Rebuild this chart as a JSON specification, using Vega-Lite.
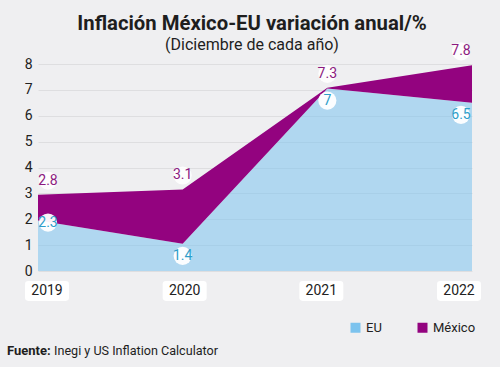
{
  "$schema": "https://vega.github.io/schema/vega-lite/v6.json",
  "width": 434,
  "height": 207,
  "autosize": "none",
  "padding": {"left": 38, "top": 64, "right": 28, "bottom": 96},
  "background": "#efeff1",
  "title": {
    "text": "Inflación México-EU variación anual/%",
    "subtitle": "(Diciembre de cada año)",
    "anchor": "middle",
    "font": "Roboto",
    "fontSize": 20.3,
    "fontWeight": "bold",
    "color": "#1e1e1e",
    "subtitleFont": "Roboto",
    "subtitleFontSize": 16,
    "subtitleColor": "#1e1e1e",
    "subtitlePadding": 3,
    "offset": -11,
    "dx": -3
  },
  "data": {
    "values": [
      {"año": "2019", "EU": 1.95, "Mexico": 2.95, "EU_et": "2.3", "MX_et": "2.8"},
      {"año": "2020", "EU": 1.05, "Mexico": 3.15, "EU_et": "1.4", "MX_et": "3.1"},
      {"año": "2021", "EU": 7.05, "Mexico": 7.08, "EU_et": "7", "MX_et": "7.3"},
      {"año": "2022", "EU": 6.5, "Mexico": 7.95, "EU_et": "6.5", "MX_et": "7.8"}
    ]
  },
  "config": {
    "view": {"stroke": null},
    "font": "Roboto",
    "axisY": {
      "tickCount": 8, "labelOverlap": false, "domain": false, "ticks": false,
      "labelFontSize": 14, "labelColor": "#222222", "labelPadding": 6,
      "gridColor": "#dedee0", "gridWidth": 1
    }
  },
  "encoding": {
    "x": {"field": "año", "type": "ordinal", "scale": {"type": "point", "padding": 0}, "axis": null}
  },
  "layer": [
    {
      "mark": {"type": "area", "opacity": 0.55, "line": false},
      "encoding": {
        "y": {
          "field": "EU", "type": "quantitative",
          "scale": {"domain": [0, 8], "nice": false},
          "axis": {"title": null}
        },
        "color": {
          "datum": "EU", "type": "nominal",
          "scale": {"domain": ["EU", "México"], "range": ["#7cc3ee", "#93037f"]},
          "legend": {
            "title": null, "orient": "none", "direction": "horizontal",
            "legendX": 311, "legendY": 257, "padding": 0,
            "symbolType": "square", "symbolSize": 100, "symbolOpacity": 1, "symbolStrokeWidth": 0,
            "labelFontSize": 13, "labelColor": "#222222", "labelOffset": 4, "columnPadding": 34
          }
        }
      }
    },
    {
      "mark": {"type": "area", "opacity": 1},
      "encoding": {
        "y": {"field": "Mexico", "type": "quantitative", "axis": {"title": null}},
        "y2": {"field": "EU"},
        "color": {"datum": "México", "type": "nominal"}
      }
    },
    {
      "mark": {"type": "point", "filled": true, "shape": "circle", "size": 330, "color": "white", "opacity": 0.95, "strokeWidth": 0,
        "xOffset": {"expr": "datum['año'] === '2019' ? 10 : datum['año'] === '2022' ? -11 : 0"},
        "yOffset": {"expr": "datum['año'] === '2019' ? 2 : 12"}},
      "encoding": {
        "y": {"field": "EU", "type": "quantitative", "axis": {"title": null}}
      }
    },
    {
      "mark": {"type": "text", "fontSize": 14, "color": "#2e9dc9", "baseline": "middle", "align": "center",
        "xOffset": {"expr": "datum['año'] === '2019' ? 10 : datum['año'] === '2022' ? -11 : 0"},
        "yOffset": {"expr": "datum['año'] === '2019' ? 2 : 12"}},
      "encoding": {
        "y": {"field": "EU", "type": "quantitative", "axis": {"title": null}},
        "text": {"field": "EU_et"}
      }
    },
    {
      "mark": {"type": "point", "filled": true, "shape": "circle", "size": 330, "color": "white", "opacity": 0.85, "strokeWidth": 0,
        "xOffset": {"expr": "datum['año'] === '2019' ? 10 : datum['año'] === '2022' ? -11 : 0"}},
      "encoding": {
        "y": {"field": "Mexico", "type": "quantitative", "axis": {"title": null}},
        "yOffset": {"value": -14}
      }
    },
    {
      "mark": {"type": "text", "fontSize": 14, "color": "#8c1a80", "baseline": "middle", "align": "center",
        "xOffset": {"expr": "datum['año'] === '2019' ? 10 : datum['año'] === '2022' ? -11 : 0"}},
      "encoding": {
        "y": {"field": "Mexico", "type": "quantitative", "axis": {"title": null}},
        "yOffset": {"value": -14},
        "text": {"field": "MX_et"}
      }
    },
    {
      "mark": {"type": "point", "filled": true, "size": 1936, "color": "white", "opacity": 1, "strokeWidth": 0,
        "shape": "M-0.85,-0.45H0.85Q1,-0.45 1,-0.3V0.3Q1,0.45 0.85,0.45H-0.85Q-1,0.45 -1,0.3V-0.3Q-1,-0.45 -0.85,-0.45Z",
        "xOffset": {"expr": "datum['año'] === '2019' ? 9 : datum['año'] === '2020' ? 2 : datum['año'] === '2021' ? -6 : -13"}},
      "encoding": {
        "y": {"datum": 0, "type": "quantitative", "axis": {"title": null}},
        "yOffset": {"value": 20}
      }
    },
    {
      "mark": {"type": "text", "fontSize": 14, "color": "#222222", "baseline": "middle", "align": "center",
        "xOffset": {"expr": "datum['año'] === '2019' ? 9 : datum['año'] === '2020' ? 2 : datum['año'] === '2021' ? -6 : -13"}},
      "encoding": {
        "y": {"datum": 0, "type": "quantitative", "axis": {"title": null}},
        "yOffset": {"value": 20},
        "text": {"field": "año"}
      }
    },
    {
      "data": {"values": [{"fuente": "Fuente:", "resto": "Inegi y US Inflation Calculator"}]},
      "layer": [
        {
          "mark": {"type": "text", "fontSize": 13, "fontWeight": "bold", "color": "#1e1e1e", "align": "left", "baseline": "alphabetic", "dx": -31, "dy": 84},
          "encoding": {
            "x": {"datum": "2019"},
            "y": {"datum": 0, "type": "quantitative", "axis": {"title": null}},
            "text": {"field": "fuente"}
          }
        },
        {
          "mark": {"type": "text", "fontSize": 12.6, "color": "#1e1e1e", "align": "left", "baseline": "alphabetic", "dx": 16, "dy": 84},
          "encoding": {
            "x": {"datum": "2019"},
            "y": {"datum": 0, "type": "quantitative", "axis": {"title": null}},
            "text": {"field": "resto"}
          }
        }
      ]
    }
  ]
}
